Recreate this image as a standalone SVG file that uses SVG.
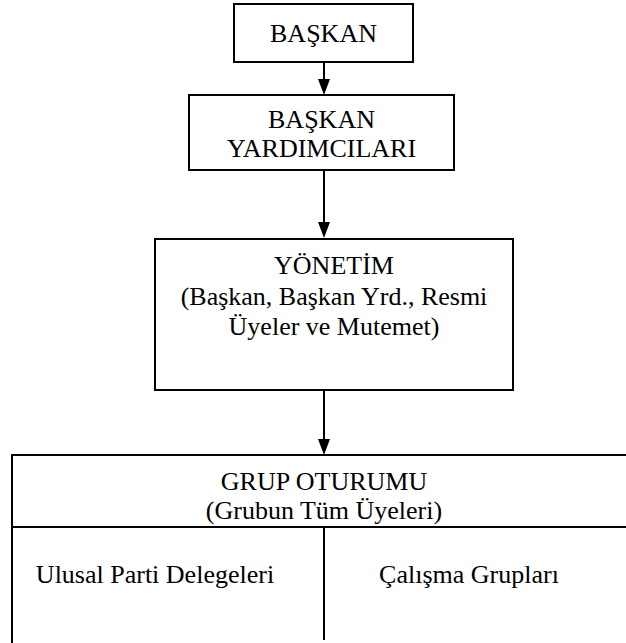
<svg xmlns="http://www.w3.org/2000/svg" width="626" height="643" viewBox="0 0 626 643">
<defs>
<style>
.box{fill:#fff;stroke:#000;stroke-width:2}
.ln{fill:none;stroke:#000;stroke-width:2}
text{font-family:"Liberation Serif","DejaVu Serif",serif;font-size:26px;fill:#000;text-anchor:middle}
</style>
</defs>
<rect width="626" height="643" fill="#fff"/>
<g id="connectors">
<path class="ln" d="M324,62 V80"/><path d="M318,79 L330,79 L324,95 Z"/>
<path class="ln" d="M324,170 V223"/><path d="M318,222 L330,222 L324,238 Z"/>
<path class="ln" d="M324,390 V440"/><path d="M318,439 L330,439 L324,455 Z"/>
</g>
<g id="baskan">
<rect class="box" x="234" y="4" width="179" height="58"/>
<text x="323.5" y="42" font-family="Liberation Serif, serif">BAŞKAN</text>
</g>
<g id="baskan-yardimcilari">
<rect class="box" x="189" y="95" width="265" height="75"/>
<text x="321.5" y="128" font-family="Liberation Serif, serif">BAŞKAN</text>
<text x="321.5" y="157" font-family="Liberation Serif, serif">YARDIMCILARI</text>
</g>
<g id="yonetim">
<rect class="box" x="155" y="239" width="358" height="151"/>
<text x="334" y="274" font-family="Liberation Serif, serif">YÖNETİM</text>
<text x="334" y="305" font-family="Liberation Serif, serif">(Başkan, Başkan Yrd., Resmi</text>
<text x="334" y="335" font-family="Liberation Serif, serif">Üyeler ve Mutemet)</text>
</g>
<g id="grup-oturumu">
<path class="ln" d="M12,643 V455 H627 M12,527 H627 M324,527 V640"/>
<text x="324" y="490" font-family="Liberation Serif, serif">GRUP OTURUMU</text>
<text x="324" y="519" font-family="Liberation Serif, serif">(Grubun Tüm Üyeleri)</text>
</g>
<g id="ulusal">
<text x="155" y="583" font-family="Liberation Serif, serif">Ulusal Parti Delegeleri</text>
</g>
<g id="calisma">
<text x="469" y="583" font-family="Liberation Serif, serif">Çalışma Grupları</text>
</g>
</svg>
